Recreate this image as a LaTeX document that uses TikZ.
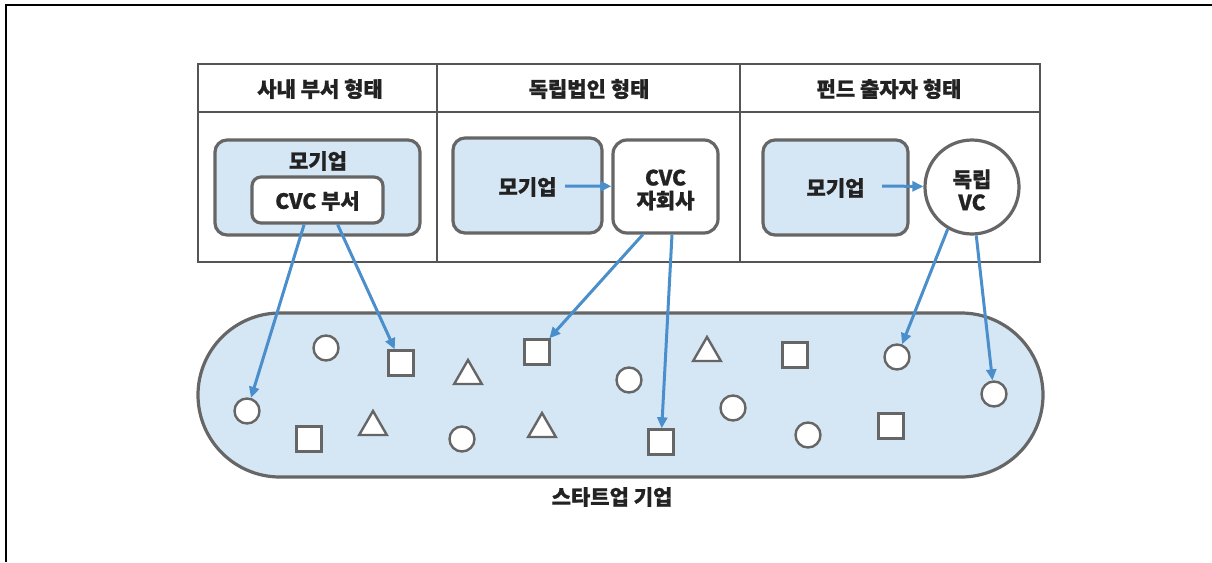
\documentclass[tikz,border=0pt]{standalone}
\usepackage{fontspec}
\setmainfont{Noto Sans CJK KR}[BoldFeatures={FakeBold=1}]
\usetikzlibrary{shapes.geometric,arrows.meta,calc}
\definecolor{lb}{HTML}{D5E7F5}
\definecolor{gl}{HTML}{666666}
\definecolor{tl}{HTML}{555555}
\definecolor{ab}{HTML}{4A8FCB}
\definecolor{tx}{HTML}{222222}
\begin{document}
\begin{tikzpicture}[x=1pt,y=-1pt,
  txt/.style={text=tx,font=\fontsize{21}{23}\selectfont\bfseries,align=center,inner sep=0},
  bigbox/.style={draw=gl,line width=3.2pt,rounded corners=12pt,fill=lb,inner sep=0},
  whitebox/.style={draw=gl,line width=3.2pt,rounded corners=9pt,fill=white,inner sep=0},
  crc/.style={circle,draw=gl,line width=2.4pt,fill=white,minimum size=25pt,inner sep=0},
  sqr/.style={rectangle,draw=gl,line width=2.4pt,fill=white,minimum size=25pt,inner sep=0},
  tri/.style={regular polygon,regular polygon sides=3,draw=gl,line width=2.4pt,fill=white,minimum size=32pt,inner sep=0},
  arr/.style={draw=ab,line width=3pt,-{Triangle[length=11pt,width=10pt]}}
]
\useasboundingbox (0,0) rectangle (1212,562);
\fill[white] (0,0) rectangle (1212,562);
% outer partial frame
\coordinate (fa) at (6,562);
\coordinate (fb) at (6,5);
\coordinate (fc) at (1212,5);
\draw[black,line width=2pt] (fa) -- (fb) -- (fc);

% table
\node[draw=tl,line width=2.6pt,minimum width=842pt,minimum height=198pt,inner sep=0] (tbl) at (619,163) {};
\coordinate (h1) at (198,112);
\coordinate (h2) at (1040,112);
\draw[tl,line width=2.6pt] (h1) -- (h2);
\coordinate (d1a) at (437,64);
\coordinate (d1b) at (437,262);
\coordinate (d2a) at (740,64);
\coordinate (d2b) at (740,262);
\draw[tl,line width=2.6pt] (d1a) -- (d1b) (d2a) -- (d2b);
\node[txt] (hd1) at (320,89) {사내 부서 형태};
\node[txt] (hd2) at (589,89) {독립법인 형태};
\node[txt] (hd3) at (889,89) {펀드 출자자 형태};

% column 1
\node[bigbox,minimum width=205pt,minimum height=95pt] (mo1) at (317.5,187.5) {};
\node[txt] (mo1t) at (318,161) {모기업};
\node[whitebox,minimum width=131pt,minimum height=46pt] (cvc1) at (317.5,200) {};
\node[txt] (cvc1t) at (317.5,201) {CVC 부서};

% column 2
\node[bigbox,minimum width=149pt,minimum height=95pt] (mo2) at (527.5,185.5) {};
\node[txt] (mo2t) at (527.5,187) {모기업};
\node[whitebox,minimum width=105pt,minimum height=93pt,rounded corners=14pt] (sub2) at (665.5,186.5) {};
\node[txt] (sub2t) at (665.5,190) {CVC\\자회사};
\coordinate (a2s) at (565,186);
\draw[arr] (a2s) -- (sub2);

% column 3
\node[bigbox,minimum width=145pt,minimum height=95pt] (mo3) at (835.5,187.5) {};
\node[txt] (mo3t) at (835.5,188) {모기업};
\node[circle,draw=gl,line width=3.2pt,fill=white,minimum size=94pt,inner sep=0] (vc3) at (972,187) {};
\node[txt] (vc3t) at (972,190) {독립\\VC};
\coordinate (a3s) at (882,186);
\draw[arr] (a3s) -- (vc3);

% startup pill
\node[draw=gl,line width=3.2pt,fill=lb,rounded corners=82pt,minimum width=845pt,minimum height=164pt,inner sep=0] (st) at (620.5,395) {};
\node[txt] (stt) at (612,497) {스타트업 기업};

% shapes
\node[crc] (c1) at (326,348) {};
\node[sqr] (s1) at (401,363) {};
\node[tri] (t1) at (468,376) {};
\node[sqr] (s2) at (537,352) {};
\node[crc] (c2) at (629,380) {};
\node[tri] (t2) at (707,353) {};
\node[sqr] (s3) at (795,355) {};
\node[crc] (c3) at (897,357) {};
\node[crc] (c4) at (247,411) {};
\node[sqr] (s4) at (309,439) {};
\node[tri] (t3) at (373,427) {};
\node[crc] (c5) at (462,439) {};
\node[tri] (t4) at (542,429) {};
\node[sqr] (s5) at (661,442) {};
\node[crc] (c6) at (733,408) {};
\node[crc] (c7) at (808,435) {};
\node[sqr] (s6) at (891,426) {};
\node[crc] (c8) at (994,394) {};

% arrows to startups
\draw[arr] ($(cvc1.south west)!0.40!(cvc1.south east)$) -- (c4);
\draw[arr] ($(cvc1.south west)!0.65!(cvc1.south east)$) -- (s1);
\draw[arr] ($(sub2.south west)!0.29!(sub2.south east)$) -- (s2);
\draw[arr] ($(sub2.south west)!0.56!(sub2.south east)$) -- (s5);
\draw[arr] (vc3.240) -- (c3);
\draw[arr] (vc3.275) -- (c8);
\end{tikzpicture}
\end{document}
